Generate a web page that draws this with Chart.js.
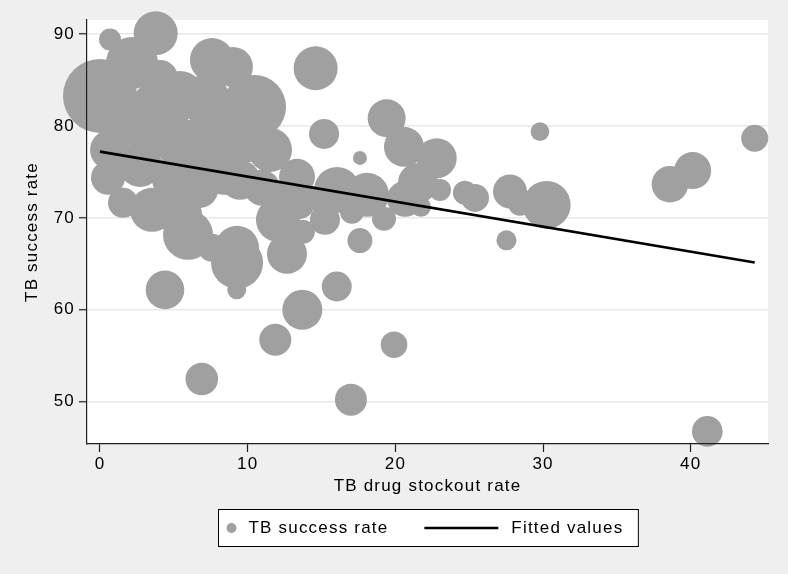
<!DOCTYPE html>
<html><head><meta charset="utf-8">
<script src="https://cdn.jsdelivr.net/npm/chart.js@4.4.1/dist/chart.umd.min.js"></script>
<style>html,body{margin:0;padding:0;background:#efefef;overflow:hidden;}</style>
</head><body>
<canvas id="c" width="788" height="574" style="display:block;width:788px;height:574px"></canvas>
<script>
// ---- data ----
const stockoutRate = [3.77,0.68,0.00,7.58,9.00,14.60,10.43,15.17,17.60,19.41,20.58,22.80,23.02,24.71,25.39,27.76,28.44,30.24,27.52,29.79,44.33,40.13,38.59,41.12,16.99,19.91,13.70,16.03,17.60,11.87,6.89,4.40,9.26,9.28,2.17,5.42,4.06,7.11,2.03,0.68,0.54,1.56,3.52,2.71,6.09,5.96,5.42,6.77,8.46,9.48,11.51,10.97,9.28,12.05,12.66,13.34,13.54,15.23,16.05,18.08,19.23,20.65,21.53,21.73,8.12,3.39,4.74,9.82,12.19,14.56,17.06,7.58,13.74,4.06];
const successRate = [90.08,89.40,83.26,87.17,86.41,86.27,82.07,79.13,76.52,80.84,77.72,76.49,73.04,72.72,72.17,72.86,71.52,71.41,67.55,79.38,78.66,75.14,73.66,46.77,50.22,56.20,60.00,62.53,67.53,56.74,52.47,62.17,62.17,65.11,86.85,83.37,81.74,82.83,80.65,77.39,74.35,71.63,70.87,75.76,77.39,68.15,70.33,73.04,75.22,74.13,77.39,73.26,66.74,69.78,66.09,74.46,71.41,69.78,73.04,72.50,69.89,72.07,73.80,71.20,79.57,78.48,74.13,77.93,72.50,72.17,70.65,66.74,68.48,85.22];
const bubbleWeight = [22,11,37,22,20,22,32,15,7,19,20,20,11,12,14,17,12,24,10,9.3,13.5,18.5,18.3,15.3,16,13.3,20,15,12.5,16,16.3,19.3,9.5,26,26,24,30,25,25,20,17,15,22,22,30,25,22,18,25,20,22,18,22,22,20,18,14,15,23,22,12,18,20,10,25,20,18,18,12,12,12,14,12,18];
const fitStockout = [0, 44.33];
const fitSuccess = [77.2, 65.14];
const xTickValues = [0, 10, 20, 30, 40];
const yTickValues = [50, 60, 70, 80, 90];
const seriesLabels = ['TB success rate', 'Fitted values'];
const axisTitles = { x: 'TB drug stockout rate', y: 'TB success rate' };

// ---- styling ----
const FONT_FAMILY = '"Liberation Sans", Arial, Helvetica, sans-serif';
const FONT = { family: FONT_FAMILY, size: 17 };
const LS = '1.2px';
const BUBBLE_COLOR = '#a0a0a0';
const AXIS_COLOR = '#1e1e1e';

// bubbles may spill past the plot region (as in the reference), so no extra layout padding for them
Chart.BubbleController.prototype.getMaxOverflow = function () { return false; };

const bubbles = stockoutRate.map((x, i) => ({ x: x, y: successRate[i], r: bubbleWeight[i] }));
const fitted = fitStockout.map((x, i) => ({ x: x, y: fitSuccess[i] }));

const background = {
  id: 'background',
  beforeDraw(chart) {
    const { ctx, chartArea: a } = chart;
    ctx.letterSpacing = LS;
    ctx.save();
    ctx.fillStyle = '#efefef';
    ctx.fillRect(0, 0, chart.width, chart.height);
    ctx.fillStyle = '#ffffff';
    ctx.fillRect(a.left, a.top, a.right - a.left, a.bottom - a.top);
    ctx.restore();
  }
};

const legendBox = {
  id: 'legendBox',
  afterDraw(chart) {
    const { ctx, chartArea: a } = chart;
    ctx.save();
    ctx.letterSpacing = LS;
    ctx.font = '17px ' + FONT_FAMILY;
    const w1 = ctx.measureText(seriesLabels[0]).width;
    const w2 = ctx.measureText(seriesLabels[1]).width;
    const total = 30 + w1 + 36 + 74 + 13 + w2 + 15;
    const cx = (a.left + a.right) / 2;
    const left = Math.round(cx - total / 2) + 0.5;
    const top = a.bottom + 65.5;
    const h = 37;
    const cy = top + h / 2;
    ctx.fillStyle = '#ffffff';
    ctx.fillRect(left, top, total, h);
    ctx.strokeStyle = '#000000';
    ctx.lineWidth = 1;
    ctx.strokeRect(left, top, total, h);
    ctx.fillStyle = BUBBLE_COLOR;
    ctx.beginPath();
    ctx.arc(left + 13, cy, 5, 0, Math.PI * 2);
    ctx.fill();
    ctx.fillStyle = '#000000';
    ctx.textBaseline = 'middle';
    ctx.textAlign = 'left';
    ctx.fillText(seriesLabels[0], left + 30, cy);
    const lx = left + 30 + w1 + 36;
    ctx.strokeStyle = '#000000';
    ctx.lineWidth = 2.6;
    ctx.beginPath();
    ctx.moveTo(lx, cy);
    ctx.lineTo(lx + 74, cy);
    ctx.stroke();
    ctx.fillText(seriesLabels[1], lx + 74 + 13, cy);
    ctx.restore();
  }
};

new Chart(document.getElementById('c'), {
  type: 'bubble',
  data: {
    datasets: [
      {
        type: 'line',
        label: seriesLabels[1],
        data: fitted,
        borderColor: '#000000',
        borderWidth: 2.6,
        pointRadius: 0,
        fill: false,
        tension: 0,
        order: 0
      },
      {
        type: 'bubble',
        label: seriesLabels[0],
        data: bubbles,
        backgroundColor: BUBBLE_COLOR,
        borderWidth: 0,
        hoverRadius: 0,
        clip: false,
        order: 1
      }
    ]
  },
  options: {
    responsive: false,
    animation: false,
    devicePixelRatio: 1,
    events: [],
    layout: { padding: { left: 0, right: 20, top: 20, bottom: 70 } },
    plugins: { legend: { display: false }, tooltip: { enabled: false } },
    scales: {
      x: {
        type: 'linear',
        min: -0.88,
        max: 45.23,
        afterFit: s => { s.height = 60; },
        afterBuildTicks: s => { s.ticks = xTickValues.map(v => ({ value: v })); },
        grid: { drawOnChartArea: false, drawTicks: true, tickLength: 8, tickColor: AXIS_COLOR, tickWidth: 1.2 },
        border: { display: true, color: AXIS_COLOR, width: 1.2, z: 1 },
        ticks: { color: '#000', font: FONT, padding: 2, maxRotation: 0, autoSkip: false, callback: v => String(v) },
        title: { display: true, text: axisTitles.x, color: '#000', font: FONT, padding: { top: 0, bottom: 7 } }
      },
      y: {
        type: 'linear',
        min: 45.4,
        max: 91.52,
        afterFit: s => { s.width = 87; },
        afterBuildTicks: s => { s.ticks = yTickValues.map(v => ({ value: v })); },
        grid: { color: '#e8e8e8', lineWidth: 1.5, drawTicks: true, tickLength: 8, tickColor: AXIS_COLOR, tickWidth: 1.2 },
        border: { display: true, color: AXIS_COLOR, width: 1.2, z: 1 },
        ticks: { color: '#000', font: FONT, padding: 4, autoSkip: false, callback: v => String(v) },
        title: { display: true, text: axisTitles.y, color: '#000', font: FONT, padding: { top: 22, bottom: 0 } }
      }
    }
  },
  plugins: [background, legendBox]
});
</script>
</body></html>
